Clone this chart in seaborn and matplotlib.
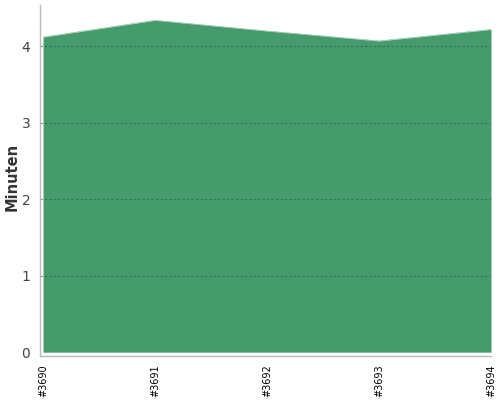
import matplotlib
matplotlib.use("Agg")
import matplotlib.pyplot as plt
import seaborn as sns
import pandas as pd

builds = ["#3690", "#3691", "#3692", "#3693", "#3694"]
minutes = [4.12, 4.34, 4.20, 4.07, 4.22]

sns.set_theme(style="white")
plt.rcParams['font.family'] = ['DejaVu Sans']

df = pd.DataFrame({"build": builds, "minutes": minutes})
df["x"] = range(len(builds))

fig = plt.figure(figsize=(5, 4), dpi=100)
ax = fig.add_axes([0.08, 0.11, 0.902, 0.8775])

ax.fill_between(df["x"], 0, df["minutes"], color="#459b6c", linewidth=0, zorder=1)
sns.lineplot(data=df, x="x", y="minutes", ax=ax, color="#459b6c", linewidth=0.3, zorder=1)

ax.set_xlim(-0.027, 4)
ax.set_ylim(-0.05, 4.54)
ax.set_xticks(df["x"])
ax.set_xticklabels(builds, rotation=90, fontsize=7, color="#000")
ax.set_yticks([0, 1, 2, 3, 4])
ax.set_yticklabels(["0", "1", "2", "3", "4"], fontsize=10, color="#444")
ax.set_xlabel("")
ax.set_ylabel("Minuten", fontsize=10.5, color="#333", fontweight="bold")
ax.yaxis.set_label_coords(-0.045, 0.51)

for yv in [1, 2, 3, 4]:
    ax.axhline(yv, linestyle=(0, (2, 2)), color="#2d6b48", linewidth=0.8, alpha=0.8, zorder=2)

for s in ["top", "right"]:
    ax.spines[s].set_visible(False)
for s in ["left", "bottom"]:
    ax.spines[s].set_color("#bbbbbb")
    ax.spines[s].set_linewidth(1)
ax.tick_params(axis="x", length=4, color="#bbbbbb", width=1, pad=2)
ax.tick_params(axis="y", length=3, color="#bbbbbb", width=1, pad=4)

fig.savefig("out.png", dpi=100)
